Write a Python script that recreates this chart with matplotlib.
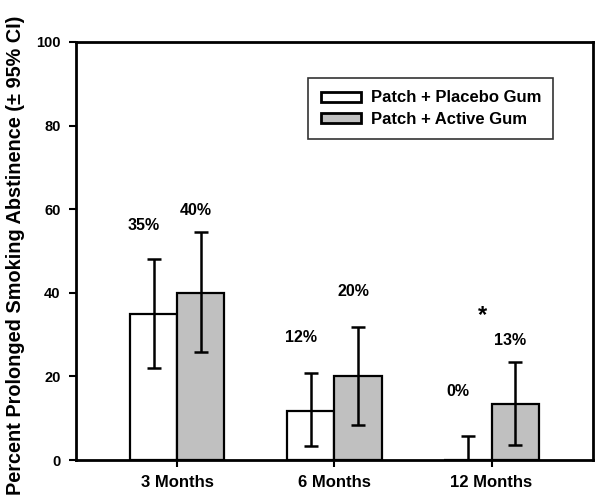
import numpy as np
import matplotlib.pyplot as plt

plt.rcParams['font.family'] = ['Liberation Sans', 'DejaVu Sans']

groups = ['3 Months', '6 Months', '12 Months']
placebo = [35, 11.7, 0]  # Patch + Placebo Gum
active = [40, 20, 13.3]  # Patch + Active Gum
placebo_low = [22, 3.3, 0]  # lower 95% CI
placebo_high = [48.2, 20.7, 5.8]  # upper 95% CI
active_low = [25.8, 8.4, 3.6]
active_high = [54.5, 31.8, 23.4]
placebo_text = ['35%', '12%', '0%']
active_text = ['40%', '20%', '13%']
placebo_text_y = [56, 29.4, 16.3]
active_text_y = [59.8, 40.2, 28.7]

x = np.arange(1, len(groups) + 1)
w = 0.3

fig = plt.figure(figsize=(6.01, 4.98), dpi=100)
ax = fig.add_axes([0.1265, 0.0763, 0.86, 0.8394])

err_p = [np.array(placebo) - np.array(placebo_low), np.array(placebo_high) - np.array(placebo)]
err_a = [np.array(active) - np.array(active_low), np.array(active_high) - np.array(active)]

ax.bar(x - w / 2, placebo, w, color='white', edgecolor='black', linewidth=1.6, label='Patch + Placebo Gum')
ax.bar(x + w / 2, active, w, color='#c0c0c0', edgecolor='black', linewidth=1.6, label='Patch + Active Gum')
ax.errorbar(x - w / 2, placebo, yerr=err_p, fmt='none', ecolor='black', elinewidth=1.8, capsize=5, capthick=1.8)
ax.errorbar(x + w / 2, active, yerr=err_a, fmt='none', ecolor='black', elinewidth=1.8, capsize=5, capthick=1.8)

# percent labels above the bars
for i in range(len(groups)):
    ax.text(x[i] - w / 2 - 0.065, placebo_text_y[i], placebo_text[i], ha='center', va='center',
            fontsize=11.5, fontweight='bold')
    ax.text(x[i] + w / 2 - 0.03, active_text_y[i], active_text[i], ha='center', va='center',
            fontsize=11.5, fontweight='bold')
ax.text(2.94, 34.5, '*', ha='center', va='center', fontsize=17, fontweight='bold')

ax.set_xlim(0.355, 3.645)
ax.set_ylim(0, 100)
ax.set_xticks(x)
ax.set_xticklabels(groups, fontsize=12, fontweight='bold')
ax.set_yticks([0, 20, 40, 60, 80, 100])
ax.set_yticklabels(['0', '20', '40', '60', '80', '100'], fontsize=10.5, fontweight='bold')
ax.tick_params(direction='out', length=5, width=1.5, pad=6)
ax.tick_params(axis='x', pad=6)
for s in ax.spines.values():
    s.set_linewidth(2)

ax.set_ylabel('Percent Prolonged Smoking Abstinence (± 95% CI)', fontsize=14.3, fontweight='bold', labelpad=10)
ax.yaxis.set_label_coords(-0.098, 0.49)

leg = ax.legend(loc='upper left', bbox_to_anchor=(0.449, 0.914), frameon=True, fancybox=False,
                edgecolor='black', handlelength=2.45, handleheight=0.55, borderpad=0.75, labelspacing=0.38,
                handletextpad=0.55, borderaxespad=0, prop={'weight': 'bold', 'size': 12})
leg.get_frame().set_linewidth(1.2)
for p in leg.get_patches():
    p.set_linewidth(2)

fig.savefig('out.png', dpi=100)
